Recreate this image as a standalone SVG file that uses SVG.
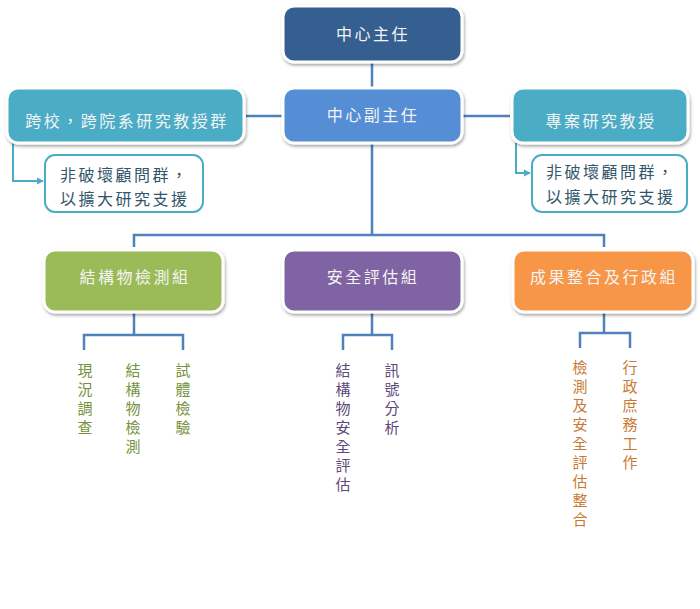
<svg xmlns="http://www.w3.org/2000/svg" width="700" height="609" viewBox="0 0 700 609">
<defs>
<filter id="sh" x="-10%" y="-20%" width="120%" height="150%">
<feDropShadow dx="1" dy="2" stdDeviation="1.5" flood-color="#000" flood-opacity="0.35"/>
</filter>
<marker id="arr" markerWidth="8" markerHeight="8" refX="6" refY="4" orient="auto" markerUnits="userSpaceOnUse">
<path d="M0,0.5 L7,4 L0,7.5 Z" fill="#4BACC6"/>
</marker>
<style>
.box{stroke:#fff;stroke-width:3;filter:url(#sh)}
.t{font-family:"Noto Sans CJK TC","Noto Sans CJK SC",sans-serif;font-size:16px;fill:#F4F4F4;text-anchor:middle;letter-spacing:2.5px}
.st{font-family:"Noto Sans CJK TC","Noto Sans CJK SC",sans-serif;font-size:16px;fill:#31566A;letter-spacing:2.5px}
.v{font-family:"Noto Sans CJK TC","Noto Sans CJK SC",sans-serif;font-size:15px;text-anchor:middle}
.ln{fill:none;stroke:#4F81BD;stroke-width:2.5}
.tl{fill:none;stroke:#4BACC6;stroke-width:2}
</style>
</defs>
<rect width="700" height="609" fill="#fff"/>
<g id="connectors">
<line class="ln" x1="372" y1="62" x2="372" y2="88"/>
<line class="ln" x1="246" y1="116" x2="282" y2="116"/>
<line class="ln" x1="462" y1="116" x2="510" y2="116"/>
<path class="ln" d="M372,142 V235 M134,247 V235 H604 V247"/>
<path class="ln" d="M134,312 V335 M84,350 V335 H183 V350"/>
<path class="ln" d="M372,312 V335 M343,350 V335 H392 V350"/>
<path class="ln" d="M604,312 V333 M580,348 V333 H630 V348"/>
<path class="tl" d="M13,143 V181 H43" marker-end="url(#arr)"/>
<path class="tl" d="M516,143 V173 H530" marker-end="url(#arr)"/>
</g>
<g id="director">
<rect class="box" x="283" y="6" width="179" height="56" rx="11" fill="#365F91"/>
<text class="t" x="373" y="40">中心主任</text>
</g>
<g id="deputy">
<rect class="box" x="283" y="88" width="179" height="55" rx="11" fill="#558ED5"/>
<text class="t" x="373" y="121">中心副主任</text>
</g>
<g id="crossschool">
<rect class="box" x="7" y="88" width="237" height="55" rx="11" fill="#4BACC6"/>
<text class="t" x="127" y="127">跨校，跨院系研究教授群</text>
</g>
<g id="projectprof">
<rect class="box" x="512" y="88" width="176" height="55" rx="11" fill="#4BACC6"/>
<text class="t" x="601" y="127">專案研究教授</text>
</g>
<g id="advisor-left">
<rect x="45" y="155" width="158" height="57" rx="10" fill="#fff" stroke="#4BACC6" stroke-width="2"/>
<text class="st" x="60" y="181">非破壞顧問群，</text>
<text class="st" x="60" y="205">以擴大研究支援</text>
</g>
<g id="advisor-right">
<rect x="532" y="155" width="155" height="57" rx="10" fill="#fff" stroke="#4BACC6" stroke-width="2"/>
<text class="st" x="546" y="178">非破壞顧問群，</text>
<text class="st" x="546" y="203">以擴大研究支援</text>
</g>
<g id="inspection">
<rect class="box" x="44" y="250" width="179" height="62" rx="11" fill="#9BBB59"/>
<text class="t" x="135" y="283">結構物檢測組</text>
</g>
<g id="safety">
<rect class="box" x="283" y="250" width="179" height="62" rx="11" fill="#8064A2"/>
<text class="t" x="373" y="283">安全評估組</text>
</g>
<g id="admin">
<rect class="box" x="513" y="250" width="180" height="62" rx="11" fill="#F79646"/>
<text class="t" x="604" y="283">成果整合及行政組</text>
</g>
<g id="inspection-items" fill="#76923C">
<text class="v" fill="#76923C"><tspan x="85" y="376">現</tspan><tspan x="85" dy="19">況</tspan><tspan x="85" dy="19">調</tspan><tspan x="85" dy="19">查</tspan></text>
<text class="v" fill="#76923C"><tspan x="133" y="376">結</tspan><tspan x="133" dy="19">構</tspan><tspan x="133" dy="19">物</tspan><tspan x="133" dy="19">檢</tspan><tspan x="133" dy="19">測</tspan></text>
<text class="v" fill="#76923C"><tspan x="183" y="376">試</tspan><tspan x="183" dy="19">體</tspan><tspan x="183" dy="19">檢</tspan><tspan x="183" dy="19">驗</tspan></text>
</g>
<g id="safety-items">
<text class="v" fill="#5F497A"><tspan x="343" y="376">結</tspan><tspan x="343" dy="19">構</tspan><tspan x="343" dy="19">物</tspan><tspan x="343" dy="19">安</tspan><tspan x="343" dy="19">全</tspan><tspan x="343" dy="19">評</tspan><tspan x="343" dy="19">估</tspan></text>
<text class="v" fill="#5F497A"><tspan x="392" y="376">訊</tspan><tspan x="392" dy="19">號</tspan><tspan x="392" dy="19">分</tspan><tspan x="392" dy="19">析</tspan></text>
</g>
<g id="admin-items">
<text class="v" fill="#C87A34"><tspan x="580" y="373">檢</tspan><tspan x="580" dy="19">測</tspan><tspan x="580" dy="19">及</tspan><tspan x="580" dy="19">安</tspan><tspan x="580" dy="19">全</tspan><tspan x="580" dy="19">評</tspan><tspan x="580" dy="19">估</tspan><tspan x="580" dy="19">整</tspan><tspan x="580" dy="19">合</tspan></text>
<text class="v" fill="#C87A34"><tspan x="630" y="373">行</tspan><tspan x="630" dy="19">政</tspan><tspan x="630" dy="19">庶</tspan><tspan x="630" dy="19">務</tspan><tspan x="630" dy="19">工</tspan><tspan x="630" dy="19">作</tspan></text>
</g>
</svg>
